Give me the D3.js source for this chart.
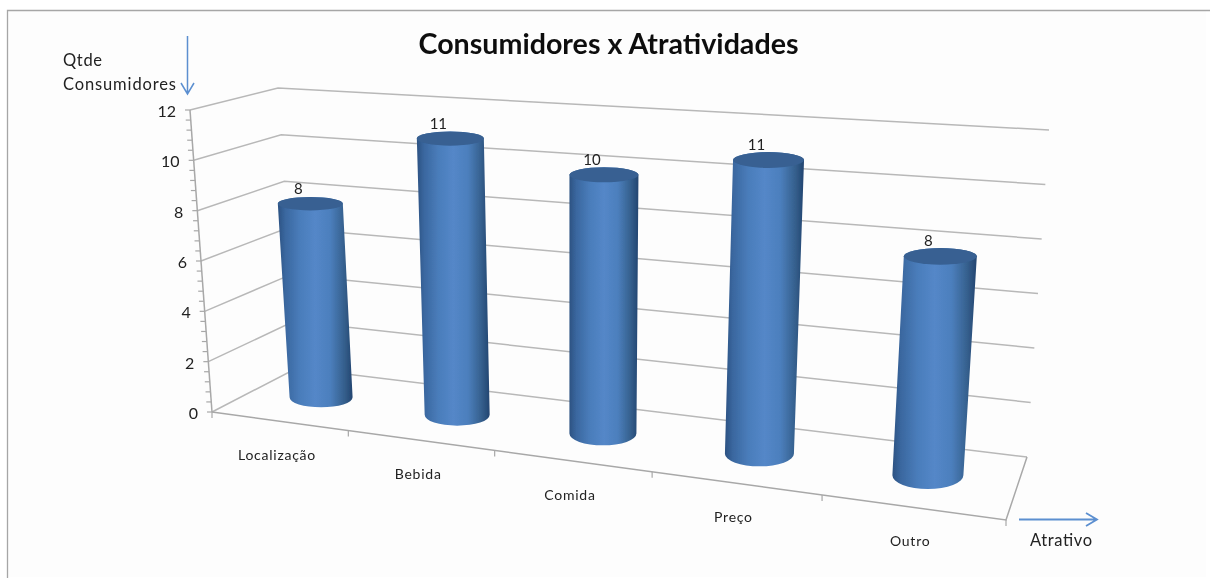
<!DOCTYPE html>
<html><head><meta charset="utf-8">
<script src="https://cdn.jsdelivr.net/npm/d3@7"></script>
<style>html,body{margin:0;padding:0;background:#fff}svg{display:block}text{font-family:Lato,"Open Sans",sans-serif}</style>
</head><body><svg id="c" width="1210" height="579"></svg>
<script>
const categories=["Localização","Bebida","Comida","Preço","Outro"];
const values=[8,11,10,11,8];
const labelsShown=["8","11","10","11","8"];
const yTicks=[0,2,4,6,8,10,12];
const titleText="Consumidores x Atratividades";

const svg=d3.select("#c");
const defs=svg.append("defs");
defs.append("filter").attr("id","soft").append("feGaussianBlur").attr("stdDeviation",0.5);
const g=svg.append("g").attr("filter","url(#soft)");

function homography(q){
  const [x0,y0]=q[0],[x1,y1]=q[1],[x2,y2]=q[2],[x3,y3]=q[3];
  const dx1=x1-x2,dx2=x3-x2,sx=x0-x1+x2-x3,dy1=y1-y2,dy2=y3-y2,sy=y0-y1+y2-y3;
  const det=dx1*dy2-dx2*dy1;
  const G=(sx*dy2-dx2*sy)/det,Hh=(dx1*sy-sx*dy1)/det;
  const a=x1-x0+G*x1,b=x3-x0+Hh*x3,d=y1-y0+G*y1,e=y3-y0+Hh*y3;
  return (u,v)=>{const w=G*u+Hh*v+1;return [(a*u+b*v+x0)/w,(d*u+e*v+y0)/w];};
}
// floor corners: front-left, front-right, back-right, back-left
const floor=homography([[212,412],[1006,520],[1027,457],[297,368]]);
// rise of the full value range at the four corners
const riseFL=[-22,-302],riseBL=[-19,-280],riseFR=[24,-350],riseBR=[22,-327];
const mix=(a,b,t)=>[a[0]+(b[0]-a[0])*t,a[1]+(b[1]-a[1])*t];
const hScale=d3.scaleLinear().domain([0,12]).range([0,1]);
const uScale=d3.scaleBand().domain(categories).range([0,1]);
const rBase=d3.scaleLinear().domain([0,1]).range([31,36]);
const ryBase=d3.scaleLinear().domain([0,1]).range([9.5,14]);
const ryTop=d3.scaleLinear().domain([0,1]).range([6.5,8.5]);
function P(u,v,val){
  const f=floor(u,v),r=mix(mix(riseFL,riseBL,v),mix(riseFR,riseBR,v),u),t=hScale(val);
  return [f[0]+r[0]*t,f[1]+r[1]*t];
}
const line=d3.line();
const gridCol="#b8b8b8";

// frame
g.append("rect").attr("x",8).attr("y",11).attr("width",1198).attr("height",566).attr("fill","#fdfdfd");
g.append("path").attr("d","M7.5 578V10.5H1210").attr("fill","none").attr("stroke","#a6a6a6").attr("stroke-width",1.3);

// gridlines
yTicks.forEach(t=>{
  g.append("path").attr("d",line([P(0,0,t),P(0,1,t),P(1,1,t)]))
   .attr("fill","none").attr("stroke",gridCol).attr("stroke-width",1.5);
});
// floor edges
g.append("path").attr("d",line([P(0,0,0),P(1,0,0),P(1,1,0)])).attr("fill","none").attr("stroke","#a8a8a8").attr("stroke-width",1.5);
// value axis
g.append("path").attr("d",line([P(0,0,0),P(0,0,12)])).attr("fill","none").attr("stroke","#a8a8a8").attr("stroke-width",1.5);
d3.range(0,12.01,0.4).forEach(t=>{
  const p=P(0,0,t);
  g.append("line").attr("x1",p[0]-5).attr("x2",p[0]).attr("y1",p[1]).attr("y2",p[1]).attr("stroke","#a8a8a8").attr("stroke-width",1.2);
});
yTicks.forEach(t=>{
  const p=P(0,0,t);
  g.append("text").attr("x",p[0]-14).attr("y",p[1]+7).attr("text-anchor","end").attr("font-size",16).attr("fill","#222").text(t);
});
// category ticks
d3.range(0,categories.length+1).forEach(i=>{
  const p=P(i/categories.length,0,0);
  g.append("line").attr("x1",p[0]).attr("x2",p[0]).attr("y1",p[1]).attr("y2",p[1]+6).attr("stroke","#a8a8a8").attr("stroke-width",1.2);
});
// category labels
categories.forEach(c=>{
  const p=P(uScale(c)+uScale.bandwidth()/2,0,0);
  g.append("text").attr("x",p[0]-2).attr("y",p[1]+39).attr("text-anchor","middle").attr("font-size",14).attr("letter-spacing",0.75).attr("fill","#222").text(c);
});

// cylinders
const grad=defs.append("linearGradient").attr("id","cyl").attr("x1",0).attr("x2",1).attr("y1",0).attr("y2",0);
[[0,"#2c5282"],[0.1,"#3a679f"],[0.3,"#4a7dbb"],[0.5,"#5487c8"],[0.7,"#4c7fbd"],[0.88,"#36618f"],[1,"#234570"]].forEach(s=>grad.append("stop").attr("offset",s[0]).attr("stop-color",s[1]));
const vc=0.5,capDrop=3.5;
categories.forEach((c,i)=>{
  const u=uScale(c)+uScale.bandwidth()/2,val=values[i];
  const b=P(u,vc,0),p=P(u,vc,val),t=[p[0],p[1]+capDrop];
  const rb=rBase(u),rt=rb+1,ryb=ryBase(u),ryt=ryTop(u);
  g.append("path").attr("fill","url(#cyl)")
   .attr("d",`M${t[0]-rt} ${t[1]}L${b[0]-rb} ${b[1]}A${rb} ${ryb} 0 0 0 ${b[0]+rb} ${b[1]}L${t[0]+rt} ${t[1]}A${rt} ${ryt} 0 0 0 ${t[0]-rt} ${t[1]}Z`);
  g.append("ellipse").attr("cx",t[0]).attr("cy",t[1]).attr("rx",rt).attr("ry",ryt).attr("fill","#376092");
  g.append("text").attr("x",t[0]-12).attr("y",t[1]-10).attr("text-anchor","middle").attr("font-size",15).attr("fill","#222").text(labelsShown[i]);
});

// title & annotations
g.append("text").attr("x",608.5).attr("y",53.5).attr("text-anchor","middle").attr("font-size",29).attr("font-weight",700).attr("fill","#111").attr("textLength",380).attr("lengthAdjust","spacingAndGlyphs").text(titleText);
const note=(s,x,y,len)=>g.append("text").attr("x",x).attr("y",y).attr("font-size",16.5).attr("fill","#222").attr("textLength",len).attr("lengthAdjust","spacing").text(s);
note("Qtde",63,66,39);
note("Consumidores",63,90,113);
note("Atrativo",1030,546,62);
const ar="#5b8fd0";
g.append("path").attr("d","M187.5 36V94M181 83L187.5 94L194 83").attr("fill","none").attr("stroke",ar).attr("stroke-width",1.5);
g.append("path").attr("d","M1019 519.5H1097M1086 513L1097 519.5L1086 526").attr("fill","none").attr("stroke",ar).attr("stroke-width",1.8);
</script></body></html>
